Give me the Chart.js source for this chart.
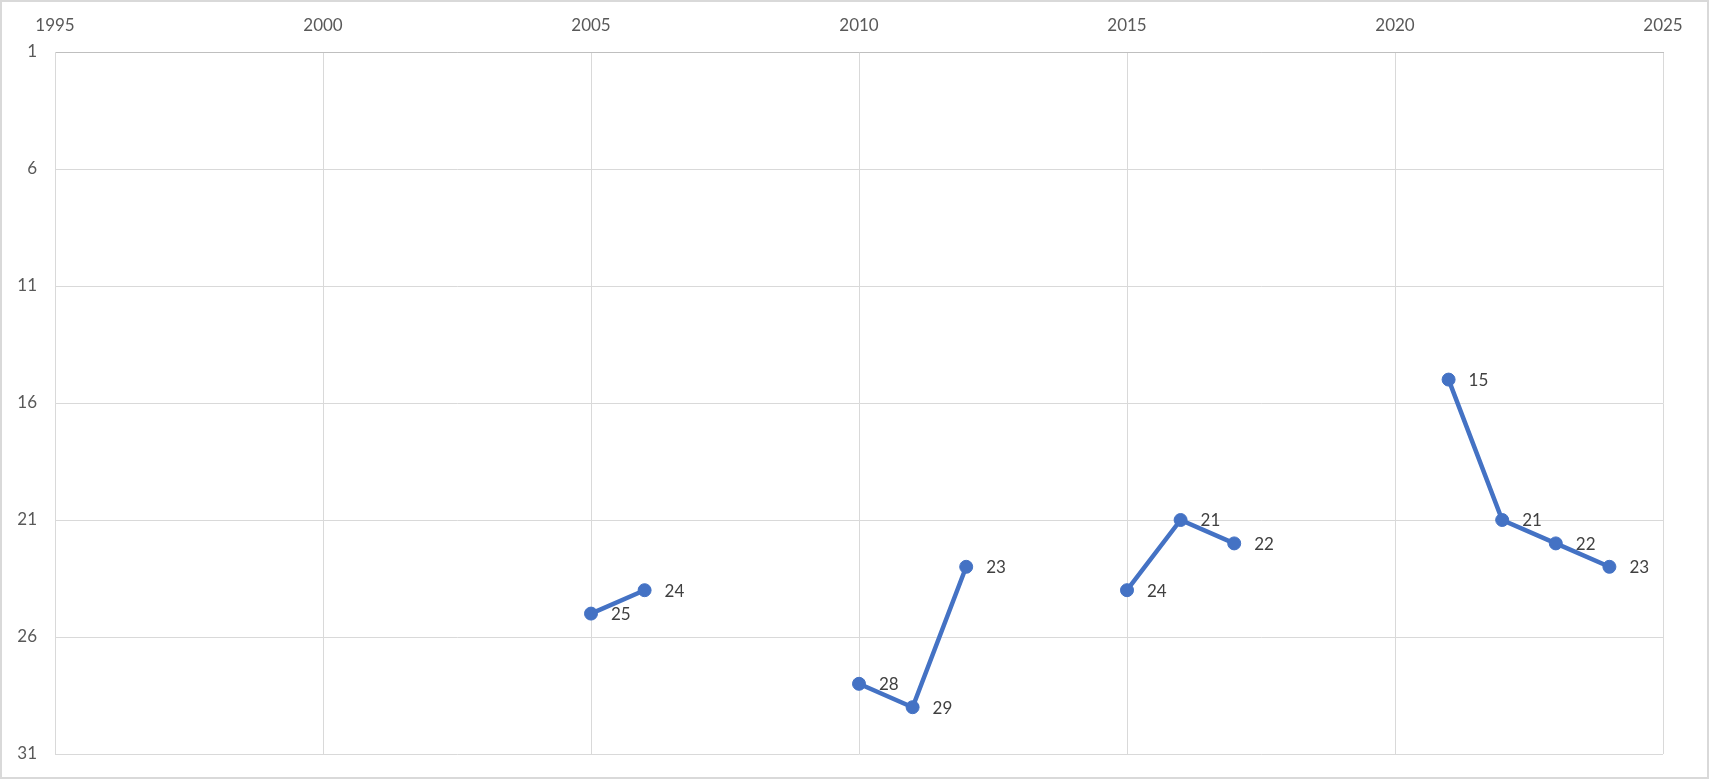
<!DOCTYPE html>
<html>
<head>
<meta charset="utf-8">
<script src="https://cdn.jsdelivr.net/npm/chart.js@4.4.1/dist/chart.umd.min.js"></script>
<style>
	html, body { margin: 0; padding: 0; background: #fff; }
	#wrap { position: relative; width: 1709px; height: 779px; }
</style>
</head>
<body>
<div id="wrap"><canvas id="mycanvas" width="1709" height="779"></canvas></div>
<script>
var years = [2005, 2006, 2007, 2008, 2009, 2010, 2011, 2012, 2013, 2014, 2015, 2016, 2017, 2018, 2019, 2020, 2021, 2022, 2023, 2024];
var ranks = [25, 24, null, null, null, 28, 29, 23, null, null, 24, 21, 22, null, null, null, 15, 21, 22, 23];
var xTicks = [1995, 2000, 2005, 2010, 2015, 2020, 2025];
var yTicks = [1, 6, 11, 16, 21, 26, 31];

var points = [];
for (var i in years) {
	points.push({ x: years[i], y: ranks[i] });
}

var fontFamily = "Lato, 'Open Sans', sans-serif";

// labels to the right of each point
var pointLabels = {
	id: 'pointLabels',
	afterDatasetsDraw: function(chart) {
		var ctx = chart.ctx;
		var meta = chart.getDatasetMeta(0);
		ctx.save();
		ctx.font = "17px " + fontFamily;
		ctx.fillStyle = "#404040";
		ctx.textAlign = "left";
		ctx.textBaseline = "middle";
		meta.data.forEach(function(pt, i) {
			if (ranks[i] === null) return;
			ctx.fillText(String(ranks[i]), pt.x + 20, pt.y + 1);
		});
		ctx.restore();
	}
};

var outerBorder = {
	id: 'outerBorder',
	afterDraw: function(chart) {
		var ctx = chart.ctx;
		ctx.save();
		ctx.strokeStyle = "#d9d9d9";
		ctx.lineWidth = 2;
		ctx.strokeRect(1, 1, chart.width - 2, chart.height - 2);
		ctx.restore();
	}
};

var chartdata = {
	datasets: [
		{
			label: "Rank",
			data: points,
			fill: false,
			spanGaps: false,
			lineTension: 0,
			borderColor: "#4472C4",
			backgroundColor: "#4472C4",
			borderWidth: 4.5,
			pointRadius: 6.5,
			pointBorderWidth: 1,
			pointBackgroundColor: "#4472C4",
			pointBorderColor: "#4472C4"
		}
	]
};

var ctx = document.getElementById("mycanvas");

var LineGraph = new Chart(ctx, {
	type: 'line',
	data: chartdata,
	plugins: [pointLabels, outerBorder],
	options: {
		responsive: false,
		animation: false,
		layout: { padding: { left: 0, top: 0, right: 46, bottom: 25 } },
		plugins: {
			legend: { display: false },
			tooltip: { enabled: false }
		},
		scales: {
			x: {
				type: 'linear',
				position: 'top',
				min: 1995,
				max: 2025,
				afterFit: function(scale) { scale.height = 52; },
				afterBuildTicks: function(scale) {
					scale.ticks = xTicks.map(function(v) { return { value: v }; });
				},
				grid: { color: "#d9d9d9", lineWidth: 1, drawTicks: false },
				border: { color: "#bfbfbf", width: 1 },
				ticks: {
					padding: 16,
					color: "#595959",
					font: { family: fontFamily, size: 17 },
					callback: function(v) { return String(v); }
				}
			},
			y: {
				reverse: true,
				min: 1,
				max: 31,
				afterFit: function(scale) {
					scale.width = 55;
					scale.paddingTop = 0;
					scale.paddingBottom = 0;
				},
				afterBuildTicks: function(scale) {
					scale.ticks = yTicks.map(function(v) { return { value: v }; });
				},
				grid: { color: "#d9d9d9", lineWidth: 1, drawTicks: false },
				border: { color: "#d9d9d9", width: 1 },
				ticks: {
					padding: 18,
					color: "#595959",
					font: { family: fontFamily, size: 17 }
				}
			}
		}
	}
});
</script>
</body>
</html>
